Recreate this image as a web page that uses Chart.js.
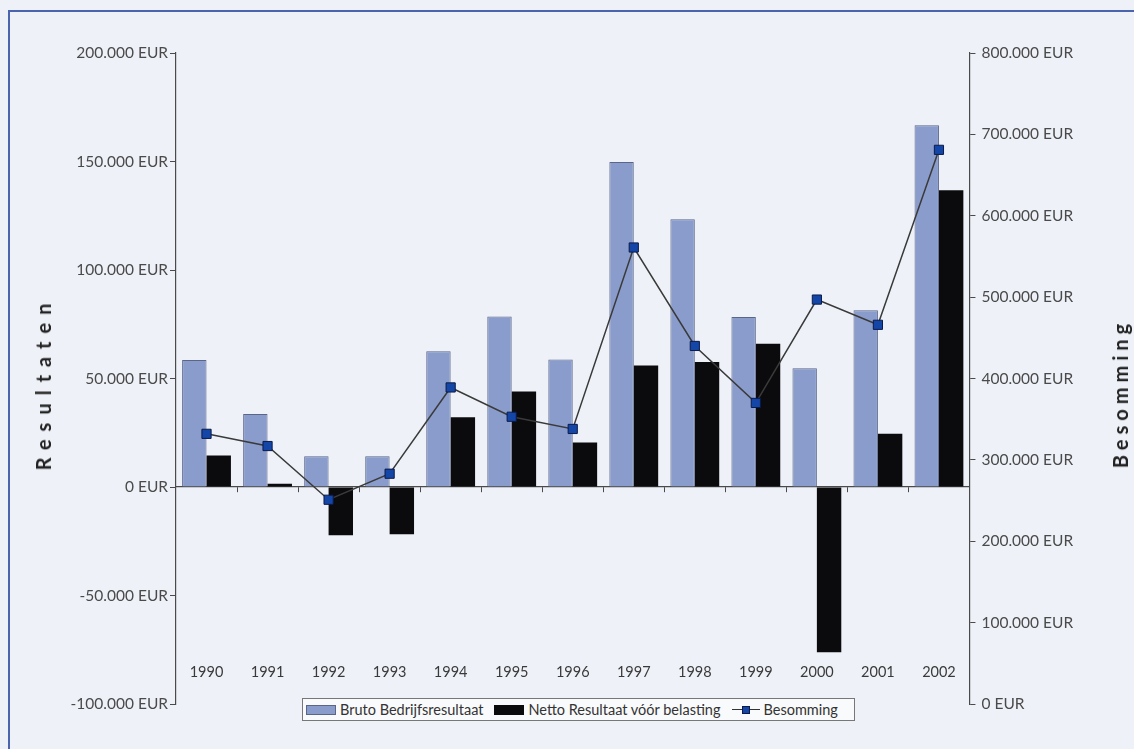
<!DOCTYPE html>
<html>
<head>
<meta charset="utf-8">
<script src="https://cdn.jsdelivr.net/npm/chart.js@4.4.1/dist/chart.umd.min.js"></script>
<style>
  html, body { margin: 0; padding: 0; background: #eef2f8; }
  #wrap { position: relative; width: 1134px; height: 749px; overflow: hidden; background: #eef2f8; }
  #frame { position: absolute; left: 8px; top: 10px; width: 1200px; height: 800px; border-top: 2px solid #4a64b0; border-left: 2px solid #4a64b0; }
  .ytitle { position: absolute; font-family: Lato, "Open Sans", sans-serif; font-weight: bold; font-size: 20px; color: #222; white-space: nowrap; transform: translate(-50%, -50%) rotate(-90deg); }
  #legend { position: absolute; left: 302px; top: 698px; width: 553px; height: 23px; border: 1px solid #777; background: #f9fafc; font-family: Lato, "Open Sans", sans-serif; font-size: 14.5px; color: #333; display: flex; align-items: center; padding-left: 3px; box-sizing: border-box; }
  .lg { display: flex; align-items: center; margin-right: 11px; }
  .sw { width: 30px; height: 10px; margin-right: 4px; box-sizing: border-box; }
  .ln { position: relative; width: 28px; height: 10px; margin-right: 4px; }
  .ln:before { content: ''; position: absolute; left: 0; right: 0; top: 4px; height: 1.5px; background: #333; }
  .ln:after { content: ''; position: absolute; left: 10px; top: 1px; width: 8px; height: 8px; background: #1446a8; border: 1px solid #0b1a48; box-sizing: border-box; }
</style>
</head>
<body>
<div id="wrap">
  <div id="frame"></div>
  <canvas id="chart"></canvas>
  <div class="ytitle" style="left:43px;top:387px;letter-spacing:8px;padding-left:8px">Resultaten</div>
  <div class="ytitle" style="left:1120px;top:396px;letter-spacing:5px;padding-left:5px">Besomming</div>
  <div id="legend">
    <div class="lg"><div class="sw" style="background:#8a9ccb;border:1px solid #5a6588"></div>Bruto Bedrijfsresultaat</div>
    <div class="lg"><div class="sw" style="background:#0b0b0d"></div>Netto Resultaat vóór belasting</div>
    <div class="lg"><div class="ln"></div>Besomming</div>
  </div>
</div>
<script>
var years = ['1990','1991','1992','1993','1994','1995','1996','1997','1998','1999','2000','2001','2002'];
var bruto = [58500, 33600, 14200, 14200, 62600, 78600, 58800, 149800, 123400, 78300, 54700, 81400, 166700];
var netto = [14500, 1500, -22200, -21800, 32200, 44000, 20500, 56000, 57600, 66000, -76200, 24500, 136800];
var besomming = [332000, 317000, 251000, 283000, 389000, 353000, 338000, 561000, 440000, 370000, 497000, 466000, 681000];

function eur(v) { return Number(v).toLocaleString('de-DE') + ' EUR'; }

var FONT = 'Lato, "Open Sans", sans-serif';
var cv = document.getElementById('chart');
cv.width = 1134; cv.height = 749;
cv.style.position = 'absolute'; cv.style.left = '0'; cv.style.top = '0';

new Chart(cv.getContext('2d'), {
  type: 'bar',
  data: {
    labels: years,
    datasets: [
      {
        type: 'line', label: 'Besomming', data: besomming, yAxisID: 'y1', order: 0,
        borderColor: '#3a3a3a', borderWidth: 1.5, tension: 0,
        pointStyle: 'rect', pointRadius: 6.5, pointBackgroundColor: '#1446a8',
        pointBorderColor: '#0b1a48', pointBorderWidth: 1
      },
      {
        label: 'Bruto Bedrijfsresultaat', data: bruto, yAxisID: 'y', order: 1,
        backgroundColor: '#8a9ccb', borderColor: '#5a6588', borderWidth: 1,
        categoryPercentage: 0.8, barPercentage: 1.0
      },
      {
        label: 'Netto Resultaat vóór belasting', data: netto, yAxisID: 'y', order: 1,
        backgroundColor: '#0b0b0d', borderColor: '#0b0b0d', borderWidth: 0,
        categoryPercentage: 0.8, barPercentage: 1.0
      }
    ]
  },
  options: {
    responsive: false, animation: false,
    layout: { padding: { top: 53, bottom: 45, left: 0, right: 0 } },
    plugins: { legend: { display: false }, tooltip: { enabled: false } },
    scales: {
      x: {
        position: { y: 0 },
        border: { color: '#4a4a4a', width: 1.2 },
        grid: { display: true, drawOnChartArea: false, offset: true, tickLength: 5, color: '#4a4a4a' },
        ticks: { color: '#3a3a3a', font: { family: FONT, size: 14.5 }, padding: 172, maxRotation: 0 }
      },
      y: {
        position: 'left', min: -100000, max: 200000,
        afterFit: function(s) { s.width = 176; },
        border: { color: '#4a4a4a', width: 1.2 },
        grid: { drawOnChartArea: false, tickLength: 6, color: '#4a4a4a' },
        ticks: { stepSize: 50000, color: '#4a4a4a', padding: 2, font: { family: FONT, size: 15.5 }, callback: function(v) { return eur(v); } }
      },
      y1: {
        position: 'right', min: 0, max: 800000,
        afterFit: function(s) { s.width = 162; },
        border: { color: '#4a4a4a', width: 1.2 },
        grid: { drawOnChartArea: false, tickLength: 6, color: '#4a4a4a' },
        ticks: { stepSize: 100000, color: '#4a4a4a', padding: 6, font: { family: FONT, size: 15.5 }, callback: function(v) { return eur(v); } }
      }
    }
  }
});
</script>
</body>
</html>
